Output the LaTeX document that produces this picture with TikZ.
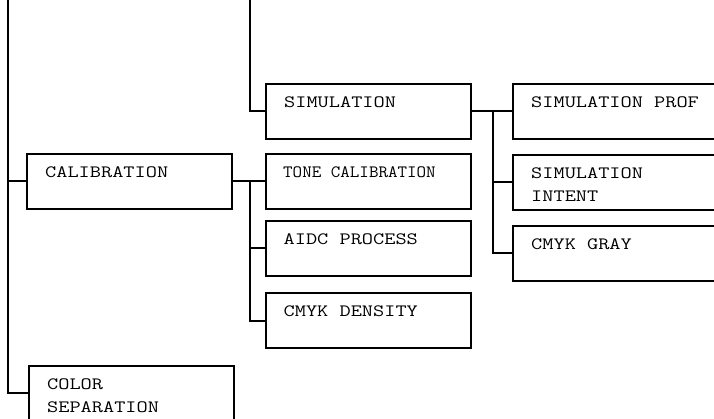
\documentclass[tikz,border=0pt]{standalone}
\usepackage{fontspec}
\tikzset{
  box/.style={draw, line width=2pt, minimum width=205pt, minimum height=55pt,
              anchor=north west, inner sep=0pt, outer sep=0pt},
  wide/.style={box, minimum width=215pt},
  txt/.style={anchor=base west, inner sep=0pt, font=\ttfamily\fontsize{17.3}{20}\selectfont},
  conn/.style={line width=2pt},
}
\newcommand{\lbl}[1]{\scalebox{1.255}[1]{#1}}
\newcommand{\lblnarrow}[1]{\scalebox{1.07}[1]{#1}}
\begin{document}
\begin{tikzpicture}[x=1pt,y=-1pt]
  \useasboundingbox (0,0) rectangle (714,419);
  \clip (0,0) rectangle (714,419);
  % boxes
  \node[box] (sim)     at (266,84)    {};
  \node[wide] (simprof) at (513,84)   {};
  \node[box] (tone)    at (266,154)   {};
  \node[wide] (simint) at (513,155)   {};
  \node[box] (cal)     at (27,154)    {};
  \node[box] (aidc)    at (265.5,221) {};
  \node[wide] (gray)   at (513,226)   {};
  \node[box] (dens)    at (265.5,293) {};
  \node[box] (colsep)  at (29,365.5)  {};
  % labels
  \node[txt] (tsim)    at ([shift={(18pt,-23.5pt)}]sim.north west)     {\lbl{SIMULATION}};
  \node[txt] (tsimprof) at ([shift={(18pt,-23.5pt)}]simprof.north west) {\lbl{SIMULATION PROF}};
  \node[txt] (ttone)   at ([shift={(17pt,-23.5pt)}]tone.north west)    {\lblnarrow{TONE CALIBRATION}};
  \node[txt] (tsimint1) at ([shift={(18pt,-23.5pt)}]simint.north west) {\lbl{SIMULATION}};
  \node[txt] (tsimint2) at ([shift={(18pt,-47pt)}]simint.north west)   {\lbl{INTENT}};
  \node[txt] (tcal)    at ([shift={(18pt,-23.5pt)}]cal.north west)     {\lbl{CALIBRATION}};
  \node[txt] (taidc)   at ([shift={(18pt,-23.5pt)}]aidc.north west)    {\lbl{AIDC PROCESS}};
  \node[txt] (tgray)   at ([shift={(18pt,-23.5pt)}]gray.north west)    {\lbl{CMYK GRAY}};
  \node[txt] (tdens)   at ([shift={(18pt,-23.5pt)}]dens.north west)    {\lbl{CMYK DENSITY}};
  \node[txt] (tcol1)   at ([shift={(18pt,-23.5pt)}]colsep.north west) {\lbl{COLOR}};
  \node[txt] (tcol2)   at ([shift={(18pt,-47pt)}]colsep.north west)   {\lbl{SEPARATION}};
  % connectors
  \coordinate (topL) at (8,0);
  \coordinate (topM) at (250,0);
  \coordinate (js) at (493,0);
  \draw[conn] (topL) |- (colsep.west);
  \draw[conn] (topL |- cal.west) -- (cal.west);
  \draw[conn] (topM) |- (sim.west);
  \draw[conn] (cal.east) -- (tone.west);
  \draw[conn] (cal.east -| topM) |- (dens.west);
  \draw[conn] (topM |- aidc.west) -- (aidc.west);
  \draw[conn] (sim.east) -- (simprof.west);
  \draw[conn] (sim.east -| js) |- (gray.west);
  \draw[conn] (js |- simint.west) -- (simint.west);
\end{tikzpicture}
\end{document}
